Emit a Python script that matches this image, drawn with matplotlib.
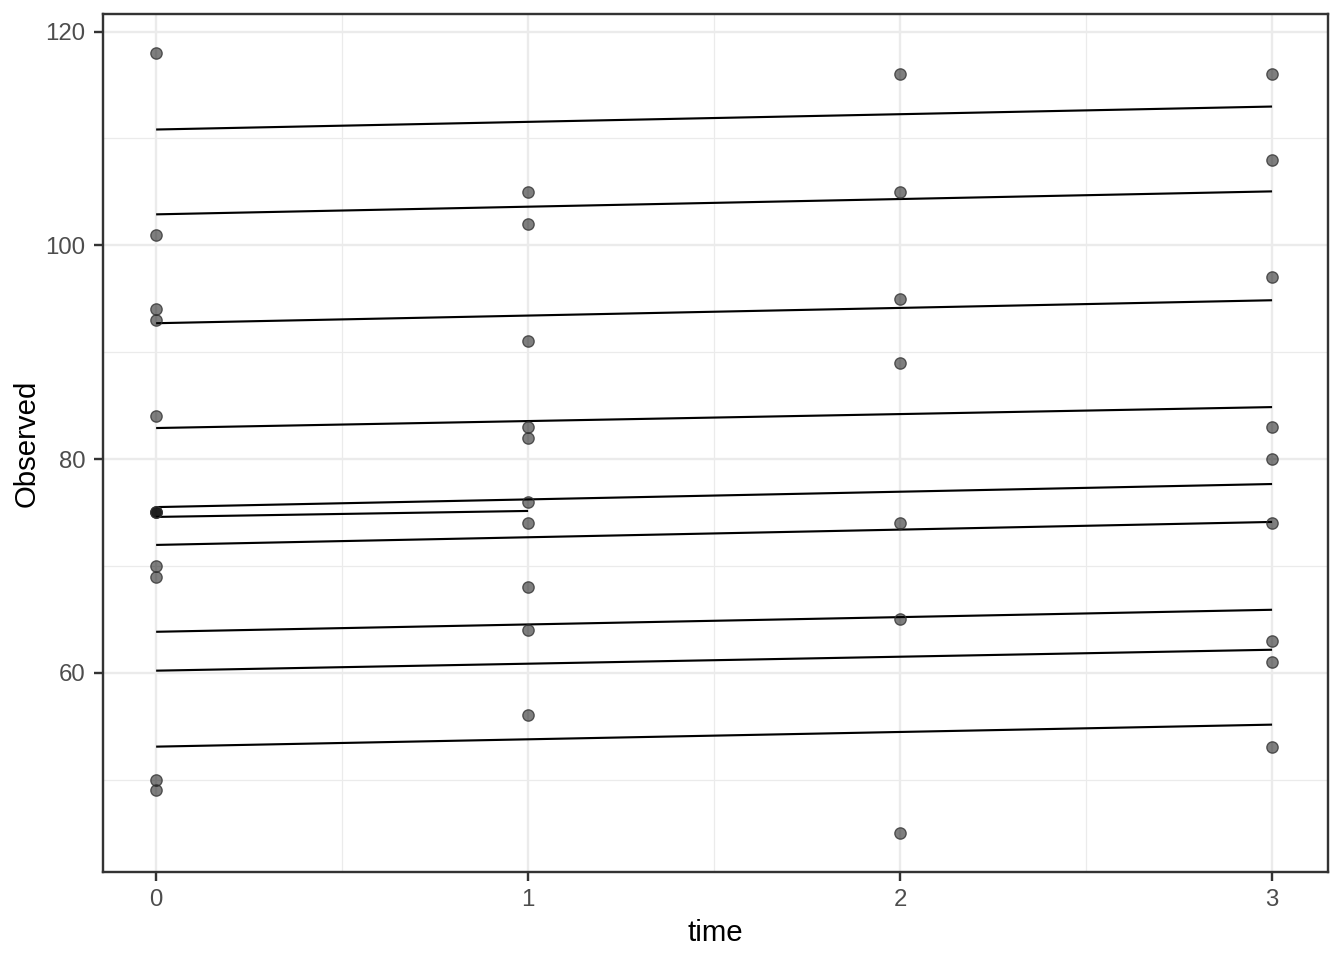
import matplotlib
matplotlib.use("Agg")
import matplotlib.pyplot as plt
import numpy as np

plt.rcParams['font.family'] = ['Liberation Sans', 'DejaVu Sans']

# observed points
time_obs = [0] * 12 + [1] * 10 + [2] * 7 + [3] * 9
observed = [118, 101, 94, 93, 84, 75, 75, 75, 70, 69, 50, 49,
            105, 102, 91, 83, 82, 76, 74, 68, 64, 56,
            116, 105, 95, 89, 74, 65, 45,
            116, 108, 97, 83, 80, 74, 63, 61, 53]

# fitted lines per subject: (start value at time 0, end value, last time)
fit_start = [110.84, 102.9, 92.71, 82.9, 75.5, 74.58, 71.96, 63.83, 60.19, 53.08]
fit_end = [112.99, 105.05, 94.86, 84.86, 77.66, 75.14, 74.11, 65.89, 62.15, 55.14]
fit_tmax = [3, 3, 3, 3, 3, 1, 3, 3, 3, 3]

fig = plt.figure(figsize=(7, 5), dpi=192)
ax = fig.add_axes([0.0766, 0.0917, 0.9114, 0.8937])

for a, b, tm in zip(fit_start, fit_end, fit_tmax):
    ax.plot([0, tm], [a, b], color="black", lw=0.8, zorder=3, solid_capstyle="butt")

ax.scatter(time_obs, observed, s=18, facecolor=(0, 0, 0, 0.5),
           edgecolor=(0.2, 0.2, 0.2, 0.8), linewidth=0.5, zorder=4)

ax.set_xlim(-0.143, 3.15)
ax.set_ylim(41.35, 121.65)
ax.set_xticks([0, 1, 2, 3])
ax.set_yticks([60, 80, 100, 120])
ax.set_xticks([0.5, 1.5, 2.5], minor=True)
ax.set_yticks([50, 70, 90, 110], minor=True)
ax.grid(True, which="major", color="#EBEBEB", lw=0.9, zorder=0)
ax.grid(True, which="minor", color="#EBEBEB", lw=0.45, zorder=0)
ax.set_axisbelow(True)
ax.tick_params(which="minor", length=0)
ax.tick_params(which="major", length=3.5, width=0.9, color="#333333",
               labelsize=9, labelcolor="#4D4D4D", pad=3)
for s in ax.spines.values():
    s.set_color("#333333")
    s.set_linewidth(0.9)

ax.set_xlabel("time", fontsize=11, labelpad=3)
ax.set_ylabel("Observed", fontsize=11, labelpad=2)

fig.savefig("out.png", dpi=192)
